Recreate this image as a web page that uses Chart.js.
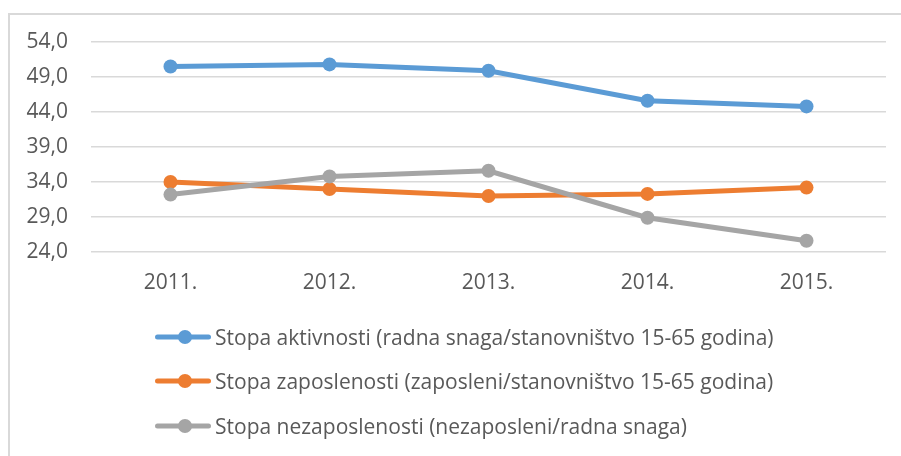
<!DOCTYPE html>
<html>
<head>
<meta charset="utf-8">
<script src="https://cdn.jsdelivr.net/npm/chart.js@4"></script>
<style>
  body { margin: 0; background: #fff; }
  #wrap { position: relative; width: 901px; height: 456px; overflow: hidden; background: #fff; }
  #frame { position: absolute; left: 8px; top: 13px; width: 1000px; height: 1000px; border: 2px solid #d9d9d9; }
  #myLineChart { position: absolute; left: 0; top: 0; }
  .leg { position: absolute; left: 155px; height: 26px; display: flex; align-items: center;
         font-family: "Open Sans", Lato, sans-serif; font-size: 21px; color: #595959; white-space: nowrap; }
  .leg svg { margin-right: 4px; }
</style>
</head>
<body>
<div id="wrap">
  <div id="frame"></div>
  <canvas id="myLineChart" width="901" height="456"></canvas>
  <div id="legend"></div>
</div>
<script>
// values
var years = ['2011.', '2012.', '2013.', '2014.', '2015.'];
var activityRate = [50.5, 50.8, 49.9, 45.6, 44.8];
var employmentRate = [34.0, 33.0, 32.0, 32.3, 33.2];
var unemploymentRate = [32.2, 34.8, 35.6, 28.9, 25.6];

var seriesNames = [
  'Stopa aktivnosti (radna snaga/stanovništvo 15-65 godina)',
  'Stopa zaposlenosti (zaposleni/stanovništvo 15-65 godina)',
  'Stopa nezaposlenosti (nezaposleni/radna snaga)'
];
var seriesColors = ['#5B9BD5', '#ED7D31', '#A5A5A5'];
var seriesData = [activityRate, employmentRate, unemploymentRate];

var textColor = '#595959';
var fontFamily = '"Open Sans", Lato, sans-serif';

var datasets = seriesData.map(function (d, i) {
  return {
    label: seriesNames[i],
    data: d,
    borderColor: seriesColors[i],
    backgroundColor: seriesColors[i],
    borderWidth: 5,
    pointRadius: 7,
    pointHoverRadius: 7,
    pointBorderWidth: 0,
    tension: 0,
    order: 2 - i   // grey drawn on top, like the original
  };
});

var ctx = document.getElementById('myLineChart');
let myLineChart = new Chart(ctx, {
  type: 'line',
  data: {
    labels: years,
    datasets: datasets
  },
  options: {
    responsive: false,
    animation: false,
    layout: { padding: { top: 42, right: 15, bottom: 144, left: 0 } },
    plugins: {
      legend: { display: false },
      tooltip: { enabled: false }
    },
    scales: {
      x: {
        offset: true,
        grid: { display: false, drawTicks: false },
        border: { display: false },
        ticks: { color: textColor, font: { family: fontFamily, size: 21 }, padding: 18, maxRotation: 0, autoSkip: false },
        afterFit: function (scale) { scale.height = 60; }
      },
      y: {
        min: 24,
        max: 54,
        grid: { color: '#d9d9d9', lineWidth: 1.5, drawTicks: false },
        border: { display: false },
        ticks: {
          stepSize: 5,
          padding: 23,
          color: textColor,
          font: { family: fontFamily, size: 21 },
          callback: function (v) { return v.toFixed(1).replace('.', ','); }
        },
        afterFit: function (scale) { scale.width = 91; }
      }
    }
  }
});

// legend like the original: line sample with a marker, one entry per row
var legendBox = document.getElementById('legend');
var rowCenters = [337, 381, 426];
seriesNames.forEach(function (name, i) {
  var row = document.createElement('div');
  row.className = 'leg';
  row.style.top = (rowCenters[i] - 13) + 'px';
  row.innerHTML =
    '<svg width="56" height="16"><line x1="2.5" y1="8" x2="53.5" y2="8" stroke="' + seriesColors[i] +
    '" stroke-width="5" stroke-linecap="round"/><circle cx="30" cy="8" r="7" fill="' + seriesColors[i] + '"/></svg>' +
    '<span>' + name + '</span>';
  legendBox.appendChild(row);
});
</script>
</body>
</html>
